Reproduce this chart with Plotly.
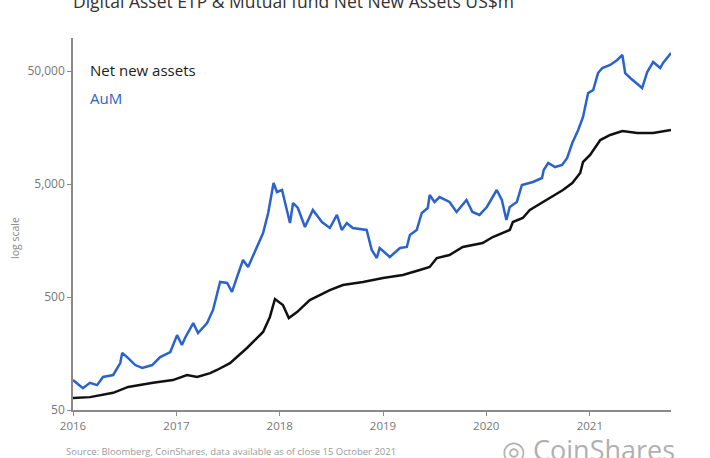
import plotly.graph_objects as go

# AuM (US$m)
aum_dates = [
    "2016-01-01", "2016-02-05", "2016-03-01", "2016-03-26", "2016-04-16", "2016-05-22",
    "2016-06-16", "2016-06-23", "2016-07-14", "2016-08-08", "2016-09-02", "2016-10-07",
    "2016-11-04", "2016-12-10", "2017-01-03", "2017-01-20", "2017-01-31", "2017-03-01",
    "2017-03-18", "2017-04-19", "2017-05-10", "2017-06-04", "2017-06-29", "2017-07-16",
    "2017-08-03", "2017-08-24", "2017-09-11", "2017-10-13", "2017-11-03", "2017-11-21",
    "2017-12-10", "2017-12-22", "2018-01-09", "2018-01-20", "2018-02-06", "2018-02-17",
    "2018-03-06", "2018-03-31", "2018-04-28", "2018-05-30", "2018-06-27", "2018-07-22",
    "2018-08-08", "2018-08-26", "2018-09-16", "2018-11-04", "2018-11-22", "2018-12-10",
    "2018-12-20", "2019-01-25", "2019-03-02", "2019-03-26", "2019-04-06", "2019-04-30",
    "2019-05-18", "2019-06-08", "2019-06-15", "2019-07-02", "2019-07-20", "2019-08-24",
    "2019-09-18", "2019-10-23", "2019-11-13", "2019-12-08", "2020-01-03", "2020-02-07",
    "2020-02-25", "2020-03-12", "2020-03-24", "2020-04-18", "2020-05-06", "2020-06-14",
    "2020-07-16", "2020-07-22", "2020-08-07", "2020-08-31", "2020-09-25", "2020-10-13",
    "2020-10-31", "2020-11-21", "2020-12-08", "2020-12-26", "2021-01-13", "2021-01-30",
    "2021-02-14", "2021-03-14", "2021-04-08", "2021-04-26", "2021-05-06", "2021-05-24",
    "2021-06-10", "2021-07-05", "2021-07-23", "2021-08-13", "2021-09-07", "2021-09-17",
    "2021-10-15",
]
aum_values = [
    92, 78, 87, 83, 98, 102,
    130, 160, 144, 125, 118, 125,
    147, 163, 230, 188, 217, 294,
    240, 294, 384, 679, 665, 554,
    752, 1062, 921, 1385, 1842, 2770,
    5100, 4245, 4425, 3395, 2259, 3395,
    3066, 2080, 2944, 2305, 2040, 2660,
    1959, 2259, 2040, 1959, 1303, 1107,
    1358, 1130, 1358, 1385, 1768, 1959,
    2770, 3066, 3997, 3466, 3834, 3466,
    2826, 3609, 2826, 2660, 3130, 4425,
    3609, 2400, 3130, 3466, 4900, 5210,
    5650, 6650, 7675, 7060, 7360, 8490,
    11530, 15030, 19590, 31900, 33950, 47960,
    53200, 56500, 62550, 69300, 47960, 43350,
    40000, 35350, 49000, 60100, 53200, 58850,
    72150,
]

# Cumulative net new assets (US$m)
nna_dates = [
    "2016-01-01", "2016-03-01", "2016-05-22", "2016-06-16", "2016-07-14", "2016-10-10",
    "2016-12-19", "2017-02-07", "2017-03-15", "2017-04-30", "2017-05-24", "2017-07-09",
    "2017-09-07", "2017-11-03", "2017-11-27", "2017-12-15", "2018-01-12", "2018-02-02",
    "2018-03-03", "2018-04-17", "2018-06-27", "2018-08-12", "2018-10-22", "2019-01-01",
    "2019-03-12", "2019-05-11", "2019-06-15", "2019-07-10", "2019-08-24", "2019-10-10",
    "2019-12-19", "2020-01-24", "2020-03-24", "2020-04-04", "2020-05-09", "2020-06-03",
    "2020-08-03", "2020-09-28", "2020-10-31", "2020-11-28", "2020-12-08", "2021-01-02",
    "2021-02-07", "2021-03-14", "2021-04-26", "2021-06-18", "2021-08-13", "2021-10-15",
]
nna_values = [
    64, 65, 71, 75, 80, 87,
    92, 102, 98, 106, 113, 130,
    177, 245, 333, 480, 425, 326,
    368, 470, 576, 638, 679, 736,
    783, 867, 921, 1107, 1177, 1385,
    1503, 1698, 1959, 2305, 2500, 2944,
    3609, 4425, 5100, 6250, 7830, 9030,
    12250, 13580, 14730, 14130, 14130, 15030,
]

y_tick_vals = [50, 500, 5000, 50000]
y_tick_text = ["50", "500", "5,000", "50,000"]
x_tick_vals = ["2016-01-01", "2017-01-01", "2018-01-01", "2019-01-01", "2020-01-01", "2021-01-01"]
x_tick_text = ["2016", "2017", "2018", "2019", "2020", "2021"]

BLUE = "#2b62cc"
FONT = "Open Sans"

fig = go.Figure()
fig.add_trace(go.Scatter(x=aum_dates, y=aum_values, mode="lines",
                         line=dict(color=BLUE, width=2.5), name="AuM"))
fig.add_trace(go.Scatter(x=nna_dates, y=nna_values, mode="lines",
                         line=dict(color="#111111", width=2.5), name="Net new assets"))

PW, PH = 598, 372  # plot area size in px

fig.update_layout(
    width=710, height=458,
    margin=dict(l=73, r=39, t=38, b=48),
    paper_bgcolor="white", plot_bgcolor="white",
    showlegend=False,
    font=dict(family=FONT, color="#777777", size=11),
    xaxis=dict(
        type="date", range=["2016-01-01", "2021-10-15"],
        tickvals=x_tick_vals, ticktext=x_tick_text,
        showgrid=False, zeroline=False, automargin=False,
        showline=True, linecolor="#8a8a8a", linewidth=1.5,
        ticks="outside", ticklen=4, tickcolor="#8a8a8a",
        tickfont=dict(size=11.5, color="#777777"),
    ),
    yaxis=dict(
        type="log", range=[1.699, 4.991],
        tickvals=y_tick_vals, ticktext=y_tick_text,
        showgrid=False, zeroline=False, automargin=False,
        showline=True, linecolor="#8a8a8a", linewidth=1.5,
        ticks="outside", ticklen=4, tickcolor="#8a8a8a",
        tickfont=dict(size=12, color="#777777"),
    ),
)

def px_x(x):
    return (x - 73) / PW

def px_y(y):
    return 1 - (y - 38) / PH

ann = [
    dict(text="Digital Asset ETP & Mutual fund Net New Assets US$m",
         x=px_x(71), y=px_y(1), xanchor="left", yanchor="middle",
         font=dict(family=FONT, size=17.5, color="#333333")),
    dict(text="Net new assets", x=px_x(88), y=px_y(70), xanchor="left", yanchor="middle",
         font=dict(family=FONT, size=15, color="#222222")),
    dict(text="AuM", x=px_x(88), y=px_y(98), xanchor="left", yanchor="middle",
         font=dict(family=FONT, size=15, color=BLUE)),
    dict(text="log scale", x=px_x(15), y=px_y(238), xanchor="center", yanchor="middle",
         textangle=-90, font=dict(family=FONT, size=10.5, color="#888888")),
    dict(text="Source: Bloomberg, CoinShares, data available as of close 15 October 2021",
         x=px_x(64), y=px_y(452), xanchor="left", yanchor="middle",
         font=dict(family=FONT, size=9.5, color="#999999")),
    dict(text="◎ CoinShares", x=px_x(500), y=px_y(450), xanchor="left", yanchor="middle",
         font=dict(family=FONT, size=27, color="#b0b0b0")),
]
for a in ann:
    a.update(xref="paper", yref="paper", showarrow=False)
fig.update_layout(annotations=ann)

# remove the page's default body margin so the figure sits at the window's top-left corner
fig.write_html("out.html", config={"displayModeBar": False},
               post_script="document.body.style.margin='0';")
